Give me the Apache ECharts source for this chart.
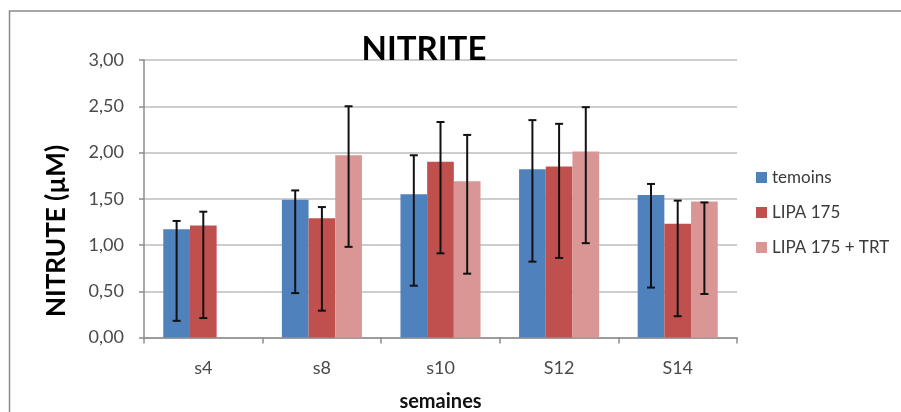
<!DOCTYPE html>
<html>
<head>
<meta charset="utf-8">
<style>
  html, body { margin: 0; padding: 0; background: #fff; }
  #chart { width: 901px; height: 412px; }
</style>
<script src="https://cdn.jsdelivr.net/npm/echarts@6/dist/echarts.min.js"></script>
</head>
<body>
<div id="chart"></div>
<script>
// Weeks of sampling
const categories = ['s4', 's8', 's10', 'S12', 'S14'];

// Mean nitrite (µM) per group
const temoins   = [1.17, 1.49, 1.55, 1.82, 1.54];
const lipa175   = [1.21, 1.29, 1.90, 1.85, 1.23];
const lipaTrt   = [null, 1.97, 1.69, 2.01, 1.47];

// Error bar extents (lower / upper)
const temoinsLow  = [0.18, 0.48, 0.56, 0.82, 0.54];
const temoinsHigh = [1.26, 1.59, 1.97, 2.35, 1.66];
const lipa175Low  = [0.21, 0.29, 0.91, 0.86, 0.23];
const lipa175High = [1.36, 1.41, 2.33, 2.31, 1.48];
const lipaTrtLow  = [null, 0.98, 0.69, 1.02, 0.47];
const lipaTrtHigh = [null, 2.50, 2.19, 2.49, 1.46];

const yTicks = [0, 0.5, 1, 1.5, 2, 2.5, 3];

const FONT = 'Lato, "Open Sans", sans-serif';
const colors = ['#4F81BD', '#C0504D', '#D99694'];
const CAT_GAP = 0.325;       // fraction of category left empty
const N_SERIES = 3;

function errorSeries(idx, low, high) {
  const data = categories.map((c, i) =>
    low[i] == null ? [i, null, null] : [i, low[i], high[i]]);
  return {
    type: 'custom',
    name: 'err' + idx,
    z: 10,
    silent: true,
    data: data,
    encode: { x: 0, y: [1, 2] },
    renderItem: function (params, api) {
      const lo = api.value(1), hi = api.value(2);
      if (lo == null || isNaN(lo)) return null;
      const catW = api.size([1, 0])[0];
      const barW = catW * (1 - CAT_GAP) / N_SERIES;
      const base = api.coord([api.value(0), lo]);
      const top = api.coord([api.value(0), hi]);
      const x = base[0] + (idx - (N_SERIES - 1) / 2) * barW;
      const cap = 4;
      const style = { stroke: '#111', lineWidth: 2 };
      return {
        type: 'group',
        children: [
          { type: 'line', shape: { x1: x, y1: base[1], x2: x, y2: top[1] }, style: style },
          { type: 'line', shape: { x1: x - cap, y1: top[1], x2: x + cap, y2: top[1] }, style: style },
          { type: 'line', shape: { x1: x - cap, y1: base[1], x2: x + cap, y2: base[1] }, style: style }
        ]
      };
    }
  };
}

const chart = echarts.init(document.getElementById('chart'), null, { renderer: 'canvas' });

chart.setOption({
  animation: false,
  backgroundColor: '#fff',
  color: colors,
  title: {
    text: 'NITRITE',
    left: 419,
    textAlign: 'center',
    top: 28,
    textStyle: { fontFamily: FONT, fontWeight: 'bold', fontSize: 33, color: '#000' }
  },
  legend: {
    orient: 'vertical',
    left: 751,
    top: 164,
    itemWidth: 11,
    itemHeight: 11,
    itemGap: 18,
    icon: 'rect',
    data: ['temoins', 'LIPA 175', 'LIPA 175 + TRT'],
    textStyle: { fontFamily: FONT, fontSize: 17, color: '#3a3a3a' }
  },
  grid: {
    left: 144, right: 164, top: 60, bottom: 74.5,
    containLabel: false,
    outerBoundsMode: 'none'
  },
  xAxis: {
    type: 'category',
    data: categories,
    name: 'semaines',
    nameLocation: 'middle',
    nameGap: 54,
    nameTextStyle: { fontFamily: FONT, fontWeight: 'bold', fontSize: 20, color: '#111' },
    axisLine: { lineStyle: { color: '#8c8c8c', width: 1.5 } },
    axisTick: { show: true, length: 6, lineStyle: { color: '#8c8c8c', width: 1.5 } },
    axisLabel: { margin: 22, fontFamily: FONT, fontSize: 18, color: '#4a4a4a' }
  },
  yAxis: {
    type: 'value',
    min: yTicks[0],
    max: yTicks[yTicks.length - 1],
    interval: 0.5,
    axisLine: { show: true, lineStyle: { color: '#8c8c8c', width: 1.5 } },
    axisTick: { show: true, length: 5, lineStyle: { color: '#8c8c8c', width: 1.5 } },
    splitLine: { lineStyle: { color: '#bdbdbd', width: 1.5 } },
    axisLabel: {
      margin: 20,
      fontFamily: FONT, fontSize: 18, color: '#4a4a4a',
      formatter: v => v.toFixed(2).replace('.', ',')
    }
  },
  series: [
    { type: 'bar', name: 'temoins', data: temoins, barGap: '0%', barCategoryGap: (CAT_GAP * 100) + '%' },
    { type: 'bar', name: 'LIPA 175', data: lipa175, barGap: '0%', barCategoryGap: (CAT_GAP * 100) + '%' },
    { type: 'bar', name: 'LIPA 175 + TRT', data: lipaTrt, barGap: '0%', barCategoryGap: (CAT_GAP * 100) + '%' },
    errorSeries(0, temoinsLow, temoinsHigh),
    errorSeries(1, lipa175Low, lipa175High),
    errorSeries(2, lipaTrtLow, lipaTrtHigh)
  ],
  graphic: [
    {
      type: 'rect',
      silent: true,
      shape: { x: 9.5, y: 11, width: 900, height: 410 },
      style: { fill: 'none', stroke: '#8a8a8a', lineWidth: 1.5 }
    },
    {
      // y-axis title, sitting a little below the plot's mid-height
      type: 'text',
      silent: true,
      x: 57,
      y: 231,
      rotation: Math.PI / 2,
      style: {
        text: 'NITRUTE (µM)',
        fontFamily: FONT, fontWeight: 'bold', fontSize: 26, fill: '#000',
        align: 'center', verticalAlign: 'middle'
      }
    }
  ]
});
</script>
</body>
</html>
